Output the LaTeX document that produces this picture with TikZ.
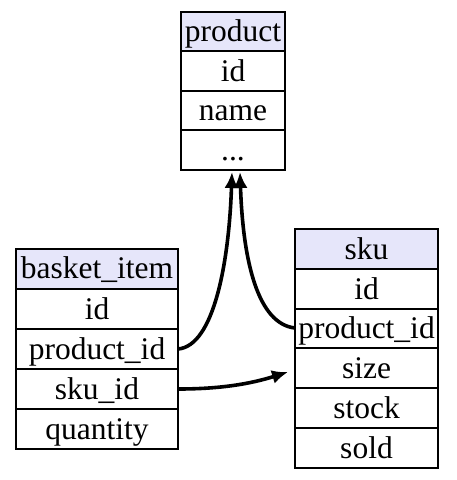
\documentclass[tikz,border=0pt]{standalone}
\usepackage{fontspec}
\setmainfont{Liberation Serif}
\usetikzlibrary{arrows.meta}
\definecolor{hdr}{HTML}{E6E6FA}
\tikzset{
  cell/.style={draw=black, line width=1.4pt},
  hcell/.style={cell, fill=hdr},
  txt/.style={anchor=base, inner sep=0pt, font=\fontsize{31.5}{31.5}\selectfont},
  fk/.style={line width=3.6pt, -{Latex[length=16pt,width=14pt]}}
}
\begin{document}
\begin{tikzpicture}[x=1pt,y=-1pt]
\useasboundingbox (0,0) rectangle (456,480);
% product table
\draw[hcell] (181,12) rectangle (285,51);
\draw[cell] (181,51) rectangle (285,91);
\draw[cell] (181,91) rectangle (285,130);
\draw[cell] (181,130) rectangle (285,170);
\node[txt] (ph) at (233,41) {product};
\node[txt] (pid) at (233,81) {id};
\node[txt] (pname) at (233,120) {name};
\node[txt] (pdots) at (233,160) {...};
\coordinate (pin1) at (232,172);
\coordinate (pin2) at (240,172);
% basket_item table
\draw[hcell] (16,249) rectangle (178,289);
\draw[cell] (16,289) rectangle (178,329);
\draw[cell] (16,329) rectangle (178,369);
\draw[cell] (16,369) rectangle (178,409);
\draw[cell] (16,409) rectangle (178,449);
\node[txt] (bh) at (97,278) {basket\_item};
\node[txt] (bid) at (97,319) {id};
\node[txt] (bpid) at (97,359) {product\_id};
\node[txt] (bsid) at (97,399) {sku\_id};
\node[txt] (bq) at (97,439) {quantity};
\coordinate (bpidR) at (178,349);
\coordinate (bsidR) at (178,389);
% sku table
\draw[hcell] (295,229) rectangle (438,269);
\draw[cell] (295,269) rectangle (438,309);
\draw[cell] (295,309) rectangle (438,348);
\draw[cell] (295,348) rectangle (438,388);
\draw[cell] (295,388) rectangle (438,428);
\draw[cell] (295,428) rectangle (438,468);
\node[txt] (sh) at (366.5,259) {sku};
\node[txt] (sid) at (366.5,299) {id};
\node[txt] (spid) at (366.5,338) {product\_id};
\node[txt] (ssize) at (366.5,378) {size};
\node[txt] (sstock) at (366.5,418) {stock};
\node[txt] (ssold) at (366.5,458) {sold};
\coordinate (spidL) at (295,328);
\coordinate (ssizeL) at (288,372);
% connectors
\draw[fk] (bpidR) .. controls (214,346) and (229,262) .. (pin1);
\draw[fk] (spidL) .. controls (258,324) and (243,262) .. (pin2);
\draw[fk] (bsidR) .. controls (220,389) and (250,384) .. (ssizeL);
\end{tikzpicture}
\end{document}
